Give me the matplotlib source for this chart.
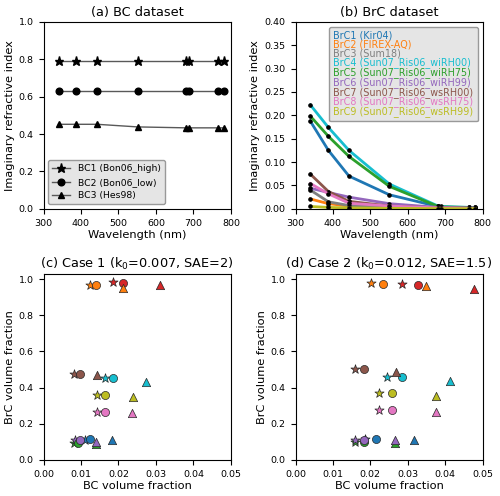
import numpy as np
import matplotlib
matplotlib.use("Agg")
import matplotlib.pyplot as plt

# wavelengths (nm)
wavelengths = [340, 388, 443, 551, 681, 689, 765, 781]

# panel (a): BC imaginary refractive index
bc_labels = ["BC1 (Bon06_high)", "BC2 (Bon06_low)", "BC3 (Hes98)"]
bc1_k = [0.79, 0.79, 0.79, 0.79, 0.79, 0.79, 0.79, 0.79]
bc2_k = [0.63, 0.63, 0.63, 0.63, 0.63, 0.63, 0.63, 0.63]
bc3_k = [0.452, 0.452, 0.452, 0.438, 0.433, 0.433, 0.433, 0.433]

# panel (b): BrC imaginary refractive index
brc_labels = ["BrC1 (Kir04)", "BrC2 (FIREX-AQ)", "BrC3 (Sum18)",
              "BrC4 (Sun07_Ris06_wiRH00)", "BrC5 (Sun07_Ris06_wiRH75)",
              "BrC6 (Sun07_Ris06_wiRH99)", "BrC7 (Sun07_Ris06_wsRH00)",
              "BrC8 (Sun07_Ris06_wsRH75)", "BrC9 (Sun07_Ris06_wsRH99)"]
brc_colors = ["tab:blue", "tab:orange", "tab:gray", "tab:cyan", "tab:green",
              "tab:purple", "tab:brown", "tab:pink", "tab:olive"]
brc1_k = [0.187, 0.125, 0.070, 0.030, 0.005, 0.004, 0.002, 0.002]
brc2_k = [0.021, 0.011, 0.006, 0.002, 0.001, 0.001, 0.0005, 0.0005]
brc3_k = [0.040, 0.015, 0.007, 0.003, 0.001, 0.001, 0.0005, 0.0005]
brc4_k = [0.222, 0.174, 0.125, 0.053, 0.006, 0.005, 0.003, 0.003]
brc5_k = [0.198, 0.155, 0.112, 0.048, 0.005, 0.004, 0.003, 0.003]
brc6_k = [0.044, 0.035, 0.025, 0.011, 0.003, 0.003, 0.002, 0.002]
brc7_k = [0.074, 0.037, 0.016, 0.006, 0.002, 0.002, 0.001, 0.001]
brc8_k = [0.054, 0.032, 0.012, 0.006, 0.002, 0.002, 0.001, 0.001]
brc9_k = [0.005, 0.003, 0.002, 0.001, 0.0005, 0.0005, 0.0003, 0.0003]
brc_k = [brc1_k, brc2_k, brc3_k, brc4_k, brc5_k, brc6_k, brc7_k, brc8_k, brc9_k]

# panels (c), (d): volume fractions, one entry per group: [BC1, BC2, BC3]
group_colors = ["tab:blue", "tab:orange", "tab:green", "tab:red", "tab:purple",
                "tab:brown", "tab:pink", "tab:olive", "tab:cyan"]
case1_bc = [[0.0111, 0.0125, 0.0184], [0.0123, 0.0140, 0.0211], [0.0080, 0.0093, 0.0141],
            [0.0185, 0.0213, 0.0311], [0.0085, 0.0096, 0.0141], [0.0082, 0.0096, 0.0142],
            [0.0143, 0.0163, 0.0236], [0.0143, 0.0163, 0.0238], [0.0163, 0.0186, 0.0273]]
case1_brc = [[0.112, 0.113, 0.107], [0.967, 0.970, 0.952], [0.095, 0.095, 0.090],
             [0.982, 0.978, 0.967], [0.110, 0.110, 0.100], [0.473, 0.473, 0.470],
             [0.263, 0.263, 0.258], [0.361, 0.361, 0.350], [0.451, 0.451, 0.433]]
case2_bc = [[0.0186, 0.0215, 0.0317], [0.0202, 0.0233, 0.0348], [0.0160, 0.0183, 0.0267],
            [0.0286, 0.0327, 0.0476], [0.0159, 0.0183, 0.0267], [0.0160, 0.0183, 0.0269],
            [0.0224, 0.0257, 0.0375], [0.0224, 0.0257, 0.0376], [0.0244, 0.0284, 0.0413]]
case2_brc = [[0.114, 0.114, 0.110], [0.980, 0.976, 0.961], [0.096, 0.096, 0.093],
             [0.972, 0.967, 0.948], [0.110, 0.110, 0.109], [0.501, 0.501, 0.488],
             [0.273, 0.273, 0.262], [0.368, 0.368, 0.355], [0.457, 0.457, 0.436]]
bc_markers = ["*", "o", "^"]

plt.rcParams['font.size'] = 6.8
plt.rcParams['xtick.labelsize'] = 6.8
plt.rcParams['ytick.labelsize'] = 6.8
plt.rcParams['axes.titlesize'] = 9.3
plt.rcParams['axes.labelsize'] = 8.2
plt.rcParams['axes.titlepad'] = 4

fig = plt.figure(figsize=(5, 4.96), dpi=100)
ax_a = fig.add_axes([0.087, 0.579, 0.375, 0.377])
ax_b = fig.add_axes([0.591, 0.579, 0.374, 0.377])
ax_c = fig.add_axes([0.087, 0.073, 0.375, 0.375])
ax_d = fig.add_axes([0.591, 0.073, 0.374, 0.375])

leg_kw = dict(facecolor="#e5e5e5", edgecolor="0.6", framealpha=1.0, fancybox=True)

# (a)
for k, lab, m in zip([bc1_k, bc2_k, bc3_k], bc_labels, bc_markers):
    ax_a.plot(wavelengths, k, color="0.35", lw=1, marker=m, mfc="k", mec="k",
              ms=6.5 if m == "*" else 4.8, label=lab)
ax_a.set_xlim(300, 800)
ax_a.set_ylim(0, 1.0)
ax_a.set_title("(a) BC dataset")
ax_a.set_xlabel("Wavelength (nm)", labelpad=2)
ax_a.set_ylabel("Imaginary refractive index", labelpad=3)
ax_a.legend(loc="lower left", fontsize=6.7, handlelength=2, **leg_kw)

# (b)
for k, lab, c in zip(brc_k, brc_labels, brc_colors):
    ax_b.plot(wavelengths, k, color=c, lw=2, label=lab)
    ax_b.plot(wavelengths, k, "o", color="k", ms=2.3)
ax_b.set_xlim(300, 800)
ax_b.set_ylim(0, 0.40)
ax_b.set_title("(b) BrC dataset")
ax_b.set_xlabel("Wavelength (nm)", labelpad=2)
ax_b.set_ylabel("Imaginary refractive index", labelpad=3)
leg = ax_b.legend(loc="upper right", fontsize=6.9, handlelength=0, handletextpad=0,
                  labelspacing=-0.12, borderpad=0.45, **leg_kw)
for txt, c in zip(leg.get_texts(), brc_colors):
    txt.set_color(c)
for h in leg.legend_handles:
    h.set_visible(False)

# (c), (d)
for ax, xs, ys, title in [(ax_c, case1_bc, case1_brc, "(c) Case 1 (k$_0$=0.007, SAE=2)"),
                          (ax_d, case2_bc, case2_brc, "(d) Case 2 (k$_0$=0.012, SAE=1.5)")]:
    for j, m in enumerate(bc_markers):
        for g, c in enumerate(group_colors):
            ax.scatter(xs[g][j], ys[g][j], marker=m, color=c, edgecolor="0.15",
                       linewidth=0.5, s={"*": 48, "o": 34, "^": 36}[m], zorder=3)
    ax.set_xlim(0, 0.05)
    ax.set_ylim(0, 1.03)
    ax.set_xticks(np.arange(0, 0.051, 0.01))
    ax.set_yticks(np.arange(0, 1.01, 0.2))
    ax.set_title(title)
    ax.set_xlabel("BC volume fraction", labelpad=2)
    ax.set_ylabel("BrC volume fraction", labelpad=3)

fig.savefig("out.png", dpi=100)
